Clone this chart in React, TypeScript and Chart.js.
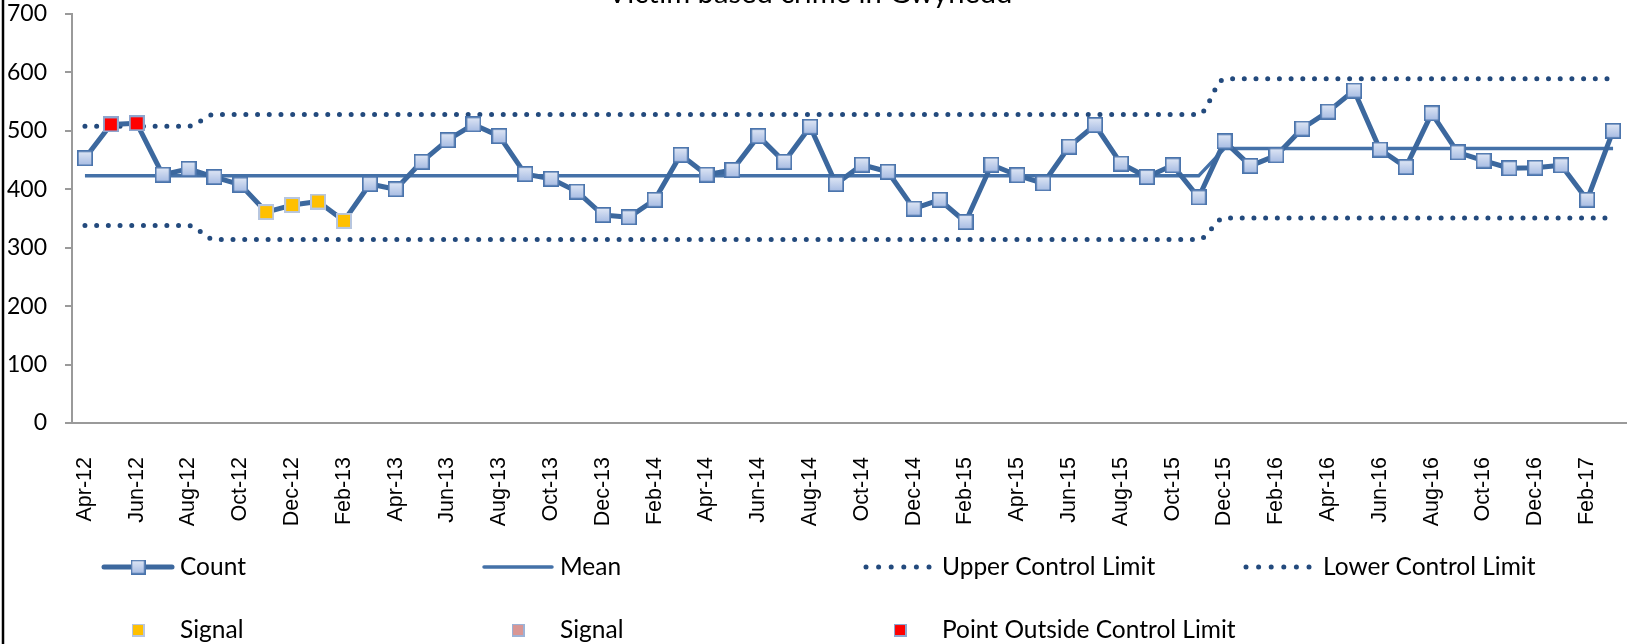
import React, { useEffect, useRef } from "react";
import { Chart, registerables } from "chart.js";

Chart.register(...registerables);

const TITLE = "Victim based crime in Gwynedd";

const MONTHS = [
  "Apr-12", "May-12", "Jun-12", "Jul-12", "Aug-12", "Sep-12", "Oct-12", "Nov-12", "Dec-12", "Jan-13",
  "Feb-13", "Mar-13", "Apr-13", "May-13", "Jun-13", "Jul-13", "Aug-13", "Sep-13", "Oct-13", "Nov-13",
  "Dec-13", "Jan-14", "Feb-14", "Mar-14", "Apr-14", "May-14", "Jun-14", "Jul-14", "Aug-14", "Sep-14",
  "Oct-14", "Nov-14", "Dec-14", "Jan-15", "Feb-15", "Mar-15", "Apr-15", "May-15", "Jun-15", "Jul-15",
  "Aug-15", "Sep-15", "Oct-15", "Nov-15", "Dec-15", "Jan-16", "Feb-16", "Mar-16", "Apr-16", "May-16",
  "Jun-16", "Jul-16", "Aug-16", "Sep-16", "Oct-16", "Nov-16", "Dec-16", "Jan-17", "Feb-17", "Mar-17",
];

const COUNT = [
  453, 511, 513, 425, 435, 421, 408, 361, 373, 379,
  346, 409, 400, 447, 484, 511, 491, 426, 418, 396,
  356, 352, 382, 459, 425, 433, 491, 447, 507, 409,
  442, 430, 367, 382, 344, 442, 424, 410, 473, 510,
  444, 421, 441, 386, 482, 440, 458, 504, 533, 569,
  468, 438, 530, 463, 449, 436, 437, 441, 382, 500,
];

const MEAN = [
  423, 423, 423, 423, 423, 423, 423, 423, 423, 423,
  423, 423, 423, 423, 423, 423, 423, 423, 423, 423,
  423, 423, 423, 423, 423, 423, 423, 423, 423, 423,
  423, 423, 423, 423, 423, 423, 423, 423, 423, 423,
  423, 423, 423, 423, 470, 470, 470, 470, 470, 470,
  470, 470, 470, 470, 470, 470, 470, 470, 470, 470,
];

const UCL = [
  508, 508, 508, 508, 508, 528, 528, 528, 528, 528,
  528, 528, 528, 528, 528, 528, 528, 528, 528, 528,
  528, 528, 528, 528, 528, 528, 528, 528, 528, 528,
  528, 528, 528, 528, 528, 528, 528, 528, 528, 528,
  528, 528, 528, 528, 589, 589, 589, 589, 589, 589,
  589, 589, 589, 589, 589, 589, 589, 589, 589, 589,
];

const LCL = [
  338, 338, 338, 338, 338, 314, 314, 314, 314, 314,
  314, 314, 314, 314, 314, 314, 314, 314, 314, 314,
  314, 314, 314, 314, 314, 314, 314, 314, 314, 314,
  314, 314, 314, 314, 314, 314, 314, 314, 314, 314,
  314, 314, 314, 314, 351, 351, 351, 351, 351, 351,
  351, 351, 351, 351, 351, 351, 351, 351, 351, 351,
];

const SIGNAL_IDX = [7, 8, 9, 10];
const SIGNAL2_IDX: number[] = [];
const OUTSIDE_IDX = [1, 2];

const Y_TICKS = [0, 100, 200, 300, 400, 500, 600, 700];

const LEGEND_ROW1 = ["Count", "Mean", "Upper Control Limit", "Lower Control Limit"];
const LEGEND_ROW2 = ["Signal", "Signal", "Point Outside Control Limit"];

const COUNT_COLOR = "#3C689E";
const MEAN_COLOR = "#4471A8";
const LIMIT_COLOR = "#234A7D";

function makeMarker(top: string, bottom: string, border: string, size: number, bw: number) {
  const c = document.createElement("canvas");
  c.width = size;
  c.height = size;
  const ctx = c.getContext("2d")!;
  const g = ctx.createLinearGradient(0, 0, 0, size);
  g.addColorStop(0, top);
  g.addColorStop(1, bottom);
  ctx.fillStyle = g;
  ctx.fillRect(0, 0, size, size);
  ctx.strokeStyle = border;
  ctx.lineWidth = bw;
  ctx.strokeRect(bw / 2, bw / 2, size - bw, size - bw);
  return c;
}

export default function App() {
  const ref = useRef<HTMLCanvasElement | null>(null);

  useEffect(() => {
    document.body.style.margin = "0";
    const blue = makeMarker("#E2E9F6", "#A3B9E2", "#4A74AC", 16, 1.7);
    const yellow = makeMarker("#FFC000", "#FFC000", "#B7C6DF", 16, 2);
    const red = makeMarker("#FF0000", "#FF0000", "#8EA6CF", 16, 2);
    const pink = makeMarker("#D99694", "#D99694", "#9DB2D6", 16, 2);

    const pick = (idx: number[]) => COUNT.map((v, i) => (idx.includes(i) ? v : null));

    const overlay = {
      id: "overlay",
      afterDraw(chart: any) {
        const ctx = chart.ctx as CanvasRenderingContext2D;
        ctx.save();
        // left frame line
        ctx.strokeStyle = "#000";
        ctx.lineWidth = 2.5;
        ctx.beginPath();
        ctx.moveTo(3, 0);
        ctx.lineTo(3, 644);
        ctx.stroke();

        // title (mostly cropped above)
        ctx.fillStyle = "#000";
        ctx.font = "20px Lato";
        const w0 = ctx.measureText(TITLE).width;
        const fs = (20 * 405) / w0;
        ctx.font = `${fs}px Lato`;
        ctx.textAlign = "center";
        ctx.textBaseline = "alphabetic";
        ctx.fillText(TITLE, 810, 3);

        // legend
        ctx.textAlign = "left";
        ctx.font = "24.5px Lato";
        const r1 = 567;
        const b1 = 575;
        const r2 = 630;
        const b2 = 638;
        // Count
        ctx.strokeStyle = COUNT_COLOR;
        ctx.lineWidth = 5;
        ctx.lineCap = "round";
        ctx.beginPath();
        ctx.moveTo(104, r1);
        ctx.lineTo(172, r1);
        ctx.stroke();
        ctx.drawImage(blue, 138 - 7.5, r1 - 7.5, 15, 15);
        ctx.fillText(LEGEND_ROW1[0], 180, b1);
        // Mean
        ctx.strokeStyle = MEAN_COLOR;
        ctx.lineWidth = 3.5;
        ctx.beginPath();
        ctx.moveTo(484, r1);
        ctx.lineTo(552, r1);
        ctx.stroke();
        ctx.fillText(LEGEND_ROW1[1], 560, b1);
        // UCL / LCL dots
        ctx.fillStyle = LIMIT_COLOR;
        for (const x0 of [866, 1246]) {
          for (let i = 0; i < 6; i++) {
            ctx.beginPath();
            ctx.arc(x0 + i * 12.6, r1, 2.5, 0, Math.PI * 2);
            ctx.fill();
          }
        }
        ctx.fillStyle = "#000";
        ctx.fillText(LEGEND_ROW1[2], 942, b1);
        ctx.fillText(LEGEND_ROW1[3], 1323, b1);
        // row 2
        ctx.drawImage(yellow, 138 - 6.5, r2 - 6.5, 13, 13);
        ctx.fillText(LEGEND_ROW2[0], 180, b2);
        ctx.drawImage(pink, 518 - 6.5, r2 - 6.5, 13, 13);
        ctx.fillText(LEGEND_ROW2[1], 560, b2);
        ctx.drawImage(red, 900 - 6.5, r2 - 6.5, 13, 13);
        ctx.fillText(LEGEND_ROW2[2], 942, b2);
        ctx.restore();
      },
    };

    const chart = new Chart(ref.current!, {
      type: "line",
      data: {
        labels: MONTHS,
        datasets: [
          {
            label: "Signal",
            data: pick(SIGNAL_IDX),
            showLine: false,
            pointStyle: yellow as any,
            order: 0,
          },
          {
            label: "Signal ",
            data: pick(SIGNAL2_IDX),
            showLine: false,
            pointStyle: pink as any,
            order: 0,
          },
          {
            label: "Point Outside Control Limit",
            data: pick(OUTSIDE_IDX),
            showLine: false,
            pointStyle: red as any,
            order: 0,
          },
          {
            label: "Count",
            data: COUNT,
            borderColor: COUNT_COLOR,
            borderWidth: 5,
            borderJoinStyle: "round",
            pointStyle: blue as any,
            order: 1,
          },
          {
            label: "Mean",
            data: MEAN,
            borderColor: MEAN_COLOR,
            borderWidth: 3.5,
            pointRadius: 0,
            order: 2,
          },
          {
            label: "Upper Control Limit",
            data: UCL,
            borderColor: LIMIT_COLOR,
            borderWidth: 5,
            borderDash: [0, 11.7],
            borderCapStyle: "round",
            cubicInterpolationMode: "monotone",
            pointRadius: 0,
            order: 3,
          },
          {
            label: "Lower Control Limit",
            data: LCL,
            borderColor: LIMIT_COLOR,
            borderWidth: 5,
            borderDash: [0, 11.7],
            borderCapStyle: "round",
            cubicInterpolationMode: "monotone",
            pointRadius: 0,
            order: 3,
          },
        ],
      },
      options: {
        animation: false,
        responsive: false,
        devicePixelRatio: 1,
        layout: { padding: { left: 0, top: 14, right: 10, bottom: 0 } },
        plugins: {
          legend: { display: false },
          tooltip: { enabled: false },
          title: { display: false },
        },
        scales: {
          x: {
            offset: true,
            grid: { display: false, offset: true },
            border: { display: true, color: "#9A9A9A", width: 2 },
            ticks: {
              autoSkip: false,
              maxRotation: 90,
              minRotation: 90,
              padding: 26,
              color: "#000",
              font: { family: "'Liberation Sans', Arial, sans-serif", size: 21.5 },
              callback: (_v: any, i: number) => (i % 2 === 0 ? MONTHS[i] : ""),
            },
            afterFit: (s: any) => {
              s.height = 221;
              s.paddingLeft = 0;
              s.paddingRight = 0;
              s.paddingTop = 0;
              s.paddingBottom = 0;
            },
          },
          y: {
            min: 0,
            max: 700,
            afterBuildTicks: (s: any) => {
              s.ticks = Y_TICKS.map((v) => ({ value: v }));
            },
            grid: {
              display: true,
              drawOnChartArea: false,
              drawTicks: true,
              tickLength: 7,
              color: "#9A9A9A",
              lineWidth: 2,
            },
            border: { display: true, color: "#9A9A9A", width: 2 },
            ticks: {
              padding: 18,
              color: "#000",
              font: { family: "Lato", size: 23 },
            },
            afterFit: (s: any) => {
              s.width = 72;
              s.paddingTop = 0;
              s.paddingBottom = 0;
              s.paddingLeft = 0;
              s.paddingRight = 0;
            },
          },
        },
      },
      plugins: [overlay],
    });
    return () => chart.destroy();
  }, []);

  return (
    <div style={{ position: "absolute", left: 0, top: 0, width: 1636, height: 644 }}>
      <canvas ref={ref} width={1636} height={644} style={{ display: "block" }} />
    </div>
  );
}
